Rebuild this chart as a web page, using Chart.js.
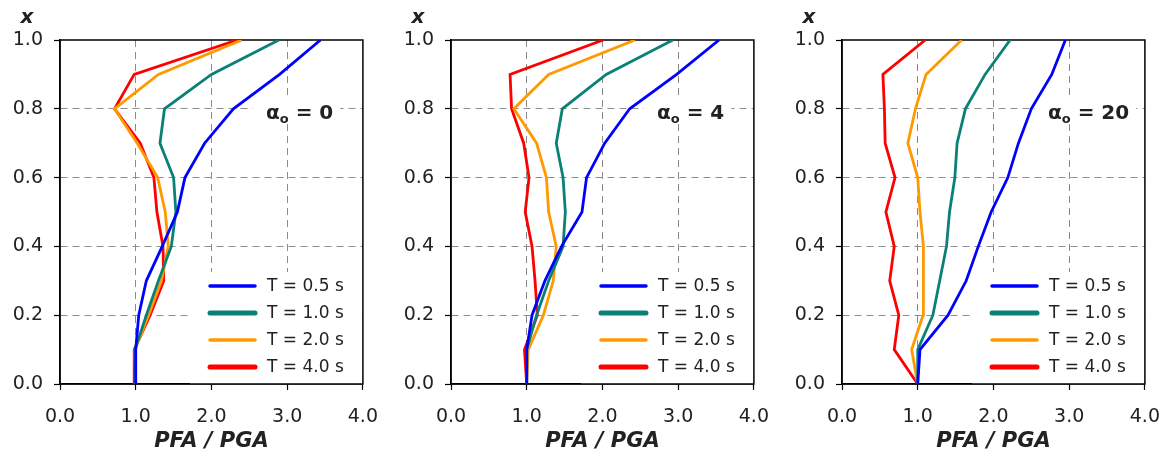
<!DOCTYPE html>
<html>
<head>
<meta charset="utf-8">
<script src="https://cdn.jsdelivr.net/npm/chart.js@4"></script>
<style>
  html, body { margin: 0; background: #fff; overflow: hidden; width: 1165px; height: 454px; }
  .panel { position: absolute; top: 0; }
</style>
</head>
<body>
<canvas id="p0" class="panel" width="394" height="454" style="left:0px"></canvas>
<canvas id="p1" class="panel" width="394" height="454" style="left:391px"></canvas>
<canvas id="p2" class="panel" width="394" height="454" style="left:782px"></canvas>
<script>
// relative height x along the building
const heights = [0.0, 0.1, 0.2, 0.3, 0.4, 0.5, 0.6, 0.7, 0.8, 0.9, 1.0];
const periodLabels = ['T = 0.5 s', 'T = 1.0 s', 'T = 2.0 s', 'T = 4.0 s'];
const alphaValues = ['0', '4', '20'];
const xTickValues = [0, 1, 2, 3, 4];
const yTickValues = [0, 0.2, 0.4, 0.6, 0.8, 1.0];

// PFA / PGA, alpha_o = 0
const a0_T05 = [1.00, 1.00, 1.04, 1.14, 1.35, 1.55, 1.65, 1.91, 2.29, 2.90, 3.44];
const a0_T10 = [1.00, 0.99, 1.14, 1.30, 1.47, 1.53, 1.50, 1.32, 1.38, 2.00, 2.89];
const a0_T20 = [1.00, 0.99, 1.17, 1.34, 1.43, 1.39, 1.29, 1.02, 0.72, 1.30, 2.40];
const a0_T40 = [0.98, 0.98, 1.19, 1.37, 1.36, 1.28, 1.24, 1.06, 0.72, 0.98, 2.34];

// alpha_o = 4
const a4_T05 = [1.00, 1.00, 1.07, 1.24, 1.46, 1.73, 1.79, 2.03, 2.36, 2.98, 3.54];
const a4_T10 = [1.00, 1.00, 1.13, 1.29, 1.48, 1.51, 1.48, 1.39, 1.47, 2.05, 2.93];
const a4_T20 = [1.00, 1.02, 1.22, 1.35, 1.39, 1.29, 1.26, 1.13, 0.83, 1.29, 2.43];
const a4_T40 = [1.00, 0.97, 1.14, 1.11, 1.07, 0.98, 1.03, 0.96, 0.80, 0.78, 2.01];

// alpha_o = 20
const a20_T05 = [1.00, 1.03, 1.40, 1.64, 1.80, 1.97, 2.19, 2.33, 2.50, 2.77, 2.95];
const a20_T10 = [1.00, 1.00, 1.20, 1.29, 1.38, 1.42, 1.49, 1.52, 1.63, 1.89, 2.22];
const a20_T20 = [1.00, 0.92, 1.07, 1.07, 1.08, 1.03, 1.00, 0.87, 0.97, 1.11, 1.58];
const a20_T40 = [1.00, 0.69, 0.75, 0.63, 0.69, 0.58, 0.70, 0.57, 0.56, 0.54, 1.10];

const panelSeries = [
  [a0_T05, a0_T10, a0_T20, a0_T40],
  [a4_T05, a4_T10, a4_T20, a4_T40],
  [a20_T05, a20_T10, a20_T20, a20_T40]
];

const lineColors = ['#0000ff', '#0b8077', '#ff9900', '#ff0000'];
const legendWidths = [3.5, 5, 3.5, 5];

const decor = {
  id: 'panelDecor',
  beforeDatasetsDraw(chart, args, opts) {
    const ctx = chart.ctx;
    const a = chart.chartArea;
    ctx.save();

    // legend backdrop
    ctx.fillStyle = '#fff';
    ctx.fillRect(a.left + 130, a.top + 232, a.right - a.left - 130, a.bottom - a.top - 232);

    // alpha label with white box
    const big = 'bold 20px "DejaVu Sans"';
    const small = 'bold 13px "DejaVu Sans"';
    ctx.font = big;
    const wA = ctx.measureText('\u03b1').width;
    const wRest = ctx.measureText(' = ' + opts.alpha).width;
    ctx.font = small;
    const wO = ctx.measureText('o').width;
    const lx = a.left + 206;
    const ly = a.top + 79;
    ctx.fillStyle = '#fff';
    ctx.fillRect(lx - 13, a.top + 57, wA + wO + wRest + 20, 27);
    ctx.fillStyle = '#222';
    ctx.textBaseline = 'alphabetic';
    ctx.textAlign = 'left';
    ctx.font = big;
    ctx.fillText('\u03b1', lx, ly);
    ctx.font = small;
    ctx.fillText('o', lx + wA, ly + 4);
    ctx.font = big;
    ctx.fillText(' = ' + opts.alpha, lx + wA + wO, ly);

    // legend
    ctx.font = '17px "DejaVu Sans"';
    ctx.textBaseline = 'middle';
    ctx.lineCap = 'round';
    chart.data.datasets.forEach((ds, i) => {
      const y = a.top + 246 + i * 27;
      ctx.strokeStyle = ds.borderColor;
      ctx.lineWidth = legendWidths[i];
      ctx.beginPath();
      ctx.moveTo(a.left + 150, y);
      ctx.lineTo(a.left + 195, y);
      ctx.stroke();
      ctx.fillStyle = '#222';
      ctx.fillText(ds.label, a.left + 207, y + 1);
    });

    // y title
    ctx.font = 'bold italic 20px "DejaVu Sans"';
    ctx.textAlign = 'center';
    ctx.fillStyle = '#222';
    ctx.fillText('x', a.left - 33, a.top - 22);

    // frame
    ctx.strokeStyle = '#000';
    ctx.lineWidth = 1.5;
    ctx.strokeRect(a.left, a.top, a.right - a.left, a.bottom - a.top);
    ctx.restore();
  }
};

function edgeColor(ctx, lo, hi) {
  const v = ctx.tick ? ctx.tick.value : null;
  if (v === null || Math.abs(v - lo) < 1e-6 || Math.abs(v - hi) < 1e-6) return 'rgba(0,0,0,0)';
  return '#8c8c8c';
}

alphaValues.forEach((alpha, p) => {
  const datasets = panelSeries[p].map((vals, i) => ({
    label: periodLabels[i],
    data: vals.map((v, k) => ({ x: v, y: heights[k] })),
    borderColor: lineColors[i],
    backgroundColor: lineColors[i],
    borderWidth: 2.8,
    pointRadius: 0,
    tension: 0,
    fill: false
  }));

  new Chart(document.getElementById('p' + p), {
    type: 'line',
    data: { datasets: datasets },
    options: {
      responsive: false,
      animation: false,
      layout: { padding: { top: 40, right: 0, left: 0, bottom: 0 } },
      plugins: {
        legend: { display: false },
        tooltip: { enabled: false },
        panelDecor: { alpha: alpha }
      },
      scales: {
        x: {
          type: 'linear',
          min: 0,
          max: 4,
          afterFit: s => { s.height = 70; },
          afterBuildTicks: s => { s.ticks = xTickValues.map(v => ({ value: v })); },
          ticks: {
            color: '#222',
            font: { family: 'DejaVu Sans', size: 19 },
            padding: 16,
            maxRotation: 0,
            callback: v => v.toFixed(1)
          },
          grid: {
            color: c => edgeColor(c, 0, 4),
            lineWidth: 1,
            tickColor: '#000',
            tickLength: 6,
            tickWidth: 1.2
          },
          border: { display: true, color: '#000', width: 1.5, dash: [7, 5] },
          title: {
            display: true,
            text: 'PFA / PGA',
            color: '#222',
            font: { family: 'DejaVu Sans', size: 21, weight: 'bold', style: 'italic' },
            padding: { top: 0, bottom: 0 }
          }
        },
        y: {
          type: 'linear',
          min: 0,
          max: 1,
          afterFit: s => { s.width = 60; },
          afterBuildTicks: s => { s.ticks = yTickValues.map(v => ({ value: v })); },
          ticks: {
            color: '#222',
            font: { family: 'DejaVu Sans', size: 19 },
            padding: 11,
            callback: v => v.toFixed(1)
          },
          grid: {
            color: c => edgeColor(c, 0, 1),
            lineWidth: 1,
            tickColor: '#000',
            tickLength: 6,
            tickWidth: 1.2
          },
          border: { display: true, color: '#000', width: 1.5, dash: [7, 5] }
        }
      }
    },
    plugins: [decor]
  });
});
</script>
</body>
</html>
